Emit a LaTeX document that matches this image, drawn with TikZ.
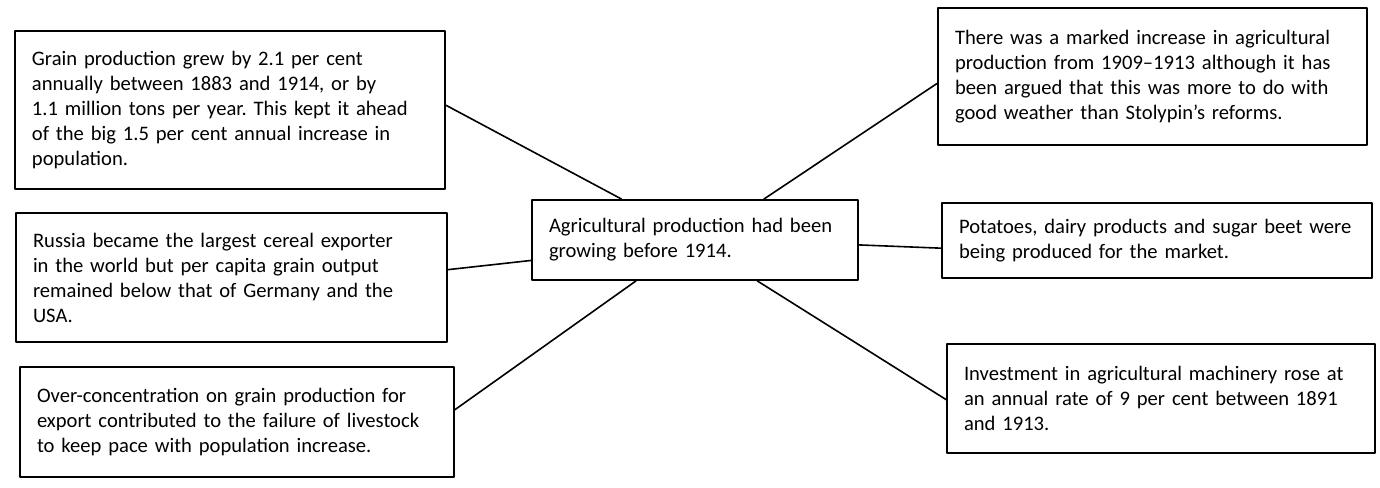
\documentclass[tikz,border=0pt]{standalone}
\usepackage{fontspec}
\setmainfont{Carlito}
\usetikzlibrary{calc}
\frenchspacing

\begin{document}
\begin{tikzpicture}[x=0.5pt, y=-0.5pt, line join=round, line cap=round]
    % Gaya kotak dan garis penghubung
    \tikzset{
      kotak/.style={draw, line width=0.9pt, inner xsep=8.5pt, inner ysep=0pt,
        align=left, font=\fontsize{10.3}{12.5}\selectfont},
      penghubung/.style={line width=0.8pt}
    }
    \useasboundingbox (0,0) rectangle (1380,487);

    % Kotak tengah
    \node[kotak, minimum width=163pt, minimum height=40pt, text width=146pt] (pusat) at (695,240)
      {Agricultural production had been\\growing before 1914.};

    % Kotak kiri
    \node[kotak, minimum width=215pt, minimum height=79pt, text width=198pt] (gandum) at (230,110)
      {Grain production grew by 2.1 per cent\\annually between 1883 and 1914, or by\\1.1 million tons per year. This kept it ahead\\of the big 1.5 per cent annual increase in\\population.};
    \node[kotak, minimum width=215.5pt, minimum height=64.5pt, text width=198.5pt] (ekspor) at (231.5,277.5)
      {Russia became the largest cereal exporter\\in the world but per capita grain output\\remained below that of Germany and the\\USA.};
    \node[kotak, minimum width=217pt, minimum height=55pt, text width=200pt] (ternak) at (237,422)
      {Over-concentration on grain production for\\export contributed to the failure of livestock\\to keep pace with population increase.};

    % Kotak kanan
    \node[kotak, minimum width=214.5pt, minimum height=68.5pt, text width=197.5pt] (cuaca) at (1152.5,76.5)
      {There was a marked increase in agricultural\\production from 1909--1913 although it~has\\been argued that this was more to do with\\good weather than Stolypin's reforms.};
    \node[kotak, minimum width=215pt, minimum height=37.5pt, text width=198pt] (pasar) at (1157,240.5)
      {Potatoes, dairy products and sugar beet were\\being produced for the market.};
    \node[kotak, minimum width=214pt, minimum height=54.5pt, text width=197pt] (mesin) at (1161,398.5)
      {Investment in agricultural machinery rose at\\an annual rate of 9 per cent between 1891\\and 1913.};

    % Garis dari kotak tepi ke kotak tengah
    \draw[penghubung] ($(gandum.north east)!0.47!(gandum.south east)$) -- ($(pusat.north west)!0.276!(pusat.north east)$);
    \draw[penghubung] ($(ekspor.north east)!0.44!(ekspor.south east)$) -- ($(pusat.north west)!0.75!(pusat.south west)$);
    \draw[penghubung] ($(ternak.north east)!0.39!(ternak.south east)$) -- ($(pusat.south west)!0.32!(pusat.south east)$);
    \draw[penghubung] ($(cuaca.north west)!0.55!(cuaca.south west)$) -- ($(pusat.north west)!0.71!(pusat.north east)$);
    \draw[penghubung] ($(pasar.north west)!0.6!(pasar.south west)$) -- ($(pusat.north east)!0.56!(pusat.south east)$);
    \draw[penghubung] ($(mesin.north west)!0.51!(mesin.south west)$) -- ($(pusat.south west)!0.69!(pusat.south east)$);
\end{tikzpicture}
\end{document}
